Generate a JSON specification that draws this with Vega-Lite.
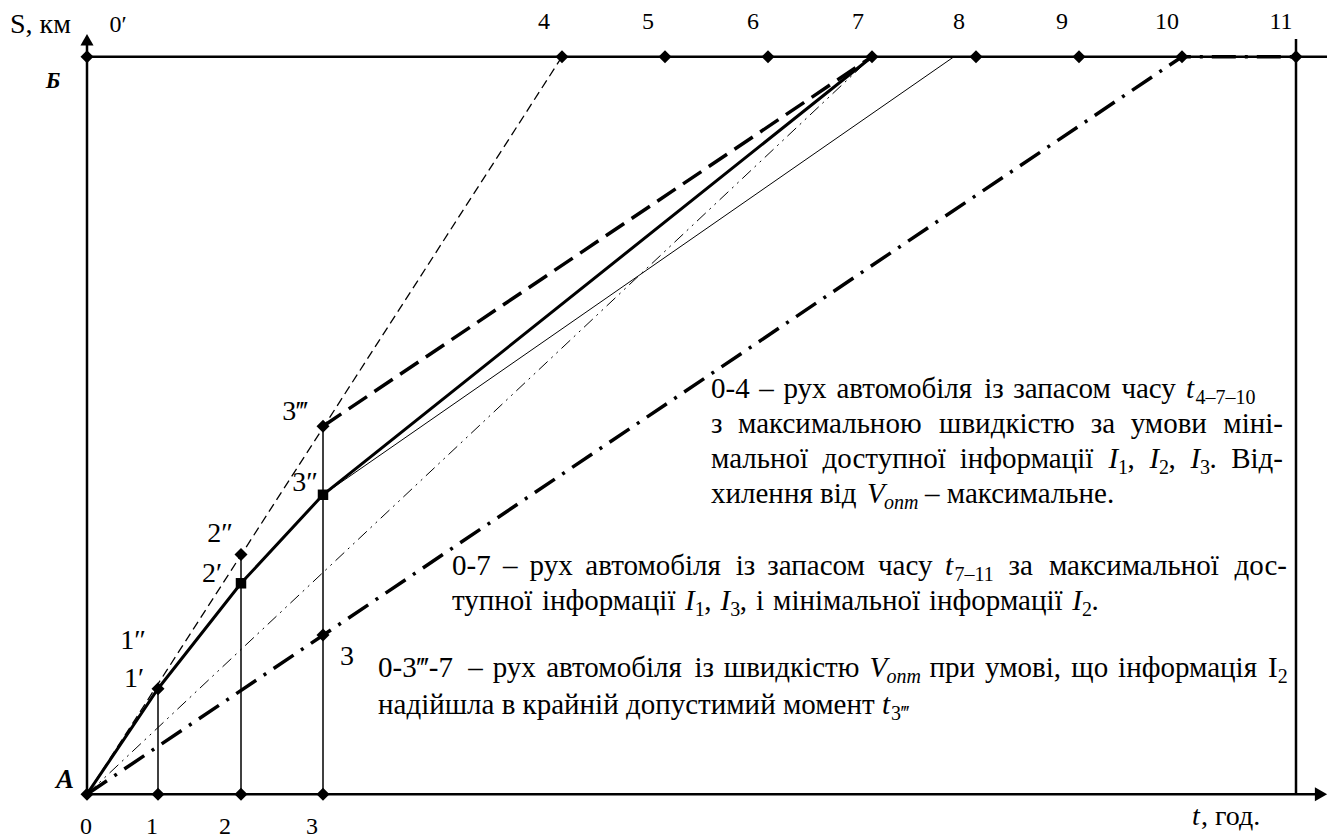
{
  "$schema": "https://vega.github.io/schema/vega-lite/v6.json",
  "width": 1337,
  "height": 840,
  "autosize": {"type": "fit", "contains": "padding"},
  "padding": 0,
  "background": "white",
  "config": {"view": {"stroke": null}, "text": {"font": "Liberation Serif", "baseline": "alphabetic", "color": "black"}},
  "datasets": {
    "lines": [
      {"s": "d4", "o": 0, "x": 0, "y": 0}, {"s": "d4", "o": 1, "x": 4.75, "y": 100},
      {"s": "sol", "o": 0, "x": 0, "y": 0}, {"s": "sol", "o": 1, "x": 0.71, "y": 14.3}, {"s": "sol", "o": 2, "x": 1.54, "y": 28.6}, {"s": "sol", "o": 3, "x": 2.36, "y": 40.6}, {"s": "sol", "o": 4, "x": 7.85, "y": 100},
      {"s": "ld", "o": 0, "x": 2.36, "y": 49.9}, {"s": "ld", "o": 1, "x": 7.85, "y": 100},
      {"s": "th", "o": 0, "x": 2.36, "y": 40.6}, {"s": "th", "o": 1, "x": 8.67, "y": 100},
      {"s": "ddd", "o": 0, "x": 0, "y": 0}, {"s": "ddd", "o": 1, "x": 7.85, "y": 100},
      {"s": "dd", "o": 0, "x": 0, "y": 0}, {"s": "dd", "o": 1, "x": 10.95, "y": 100}, {"s": "dd", "o": 2, "x": 12.09, "y": 100}
    ],
    "frame": [
      {"x": 0, "y": 0, "x2": 12.31, "y2": 0},
      {"x": 0, "y": 0, "x2": 0, "y2": 102},
      {"x": 0, "y": 100, "x2": 12.4, "y2": 100},
      {"x": 12.09, "y": 0, "x2": 12.09, "y2": 102.4}
    ],
    "vert": [
      {"x": 0.71, "y": 0, "x2": 0.71, "y2": 14.3},
      {"x": 1.54, "y": 0, "x2": 1.54, "y2": 32.5},
      {"x": 2.36, "y": 0, "x2": 2.36, "y2": 49.9}
    ],
    "arrowUp": [{"x": 0, "y": 102.3}],
    "arrowRight": [{"x": 12.34, "y": 0}],
    "diamonds": [
      {"x": 0, "y": 0}, {"x": 0.71, "y": 0}, {"x": 1.54, "y": 0}, {"x": 2.36, "y": 0},
      {"x": 0, "y": 100}, {"x": 4.75, "y": 100}, {"x": 5.78, "y": 100}, {"x": 6.81, "y": 100}, {"x": 7.85, "y": 100},
      {"x": 8.89, "y": 100}, {"x": 9.92, "y": 100}, {"x": 10.95, "y": 100}, {"x": 12.09, "y": 100},
      {"x": 0.71, "y": 14.3}, {"x": 1.54, "y": 32.5}, {"x": 2.36, "y": 49.9}, {"x": 2.36, "y": 21.6}
    ],
    "squares": [{"x": 1.54, "y": 28.6}, {"x": 2.36, "y": 40.6}],
    "lab24": [
      {"x": 4.57, "y": 103.78, "text": "4"}, {"x": 5.61, "y": 103.78, "text": "5"}, {"x": 6.66, "y": 103.78, "text": "6"},
      {"x": 7.71, "y": 103.78, "text": "7"}, {"x": 8.72, "y": 103.78, "text": "8"}, {"x": 9.75, "y": 103.78, "text": "9"},
      {"x": 10.8, "y": 103.78, "text": "10"}, {"x": 11.94, "y": 103.78, "text": "11"}, {"x": 0.31, "y": 103.37, "text": "0′"},
      {"x": -0.01, "y": -5.4, "text": "0"}, {"x": 0.65, "y": -5.4, "text": "1"}, {"x": 1.38, "y": -5.4, "text": "2"}, {"x": 2.25, "y": -5.4, "text": "3"}
    ],
    "labLeft": [
      {"x": -0.77, "y": 103.24, "text": "S, км"},
      {"x": 11.14, "y": -4.18, "text": ", год."}
    ],
    "labItal": [{"x": 11.05, "y": -4.18, "text": "t"}],
    "pointLab": [
      {"x": 0.46, "y": 19.7, "text": "1″"}, {"x": 0.47, "y": 14.57, "text": "1′"},
      {"x": 1.33, "y": 34.14, "text": "2″"}, {"x": 1.25, "y": 28.74, "text": "2′"},
      {"x": 2.08, "y": 50.74, "text": "3‴"}, {"x": 2.18, "y": 41.16, "text": "3″"},
      {"x": 2.6, "y": 17.54, "text": "3"}
    ],
    "boldA": [{"x": -0.22, "y": 0.81, "text": "A"}],
    "boldB": [{"x": -0.34, "y": 95.82, "text": "Б"}],
    "txt": [
      {"x": 6.24, "y": 53.71, "text": "0-4"}, {"x": 6.723, "y": 53.71, "text": "–"}, {"x": 6.964, "y": 53.71, "text": "рух"},
      {"x": 7.495, "y": 53.71, "text": "автомобіля"}, {"x": 8.973, "y": 53.71, "text": "із"}, {"x": 9.263, "y": 53.71, "text": "запасом"},
      {"x": 10.344, "y": 53.71, "text": "часу"},
      {"x": 6.24, "y": 48.99, "text": "з"}, {"x": 6.511, "y": 48.99, "text": "максимальною"}, {"x": 8.521, "y": 48.99, "text": "швидкістю"},
      {"x": 10.037, "y": 48.99, "text": "за"}, {"x": 10.437, "y": 48.99, "text": "умови"},
      {"x": 6.24, "y": 44.26, "text": "мальної"}, {"x": 7.355, "y": 44.26, "text": "доступної"}, {"x": 8.727, "y": 44.26, "text": "інформації"},
      {"x": 10.406, "y": 44.26, "text": ","}, {"x": 10.816, "y": 44.26, "text": ","}, {"x": 11.226, "y": 44.26, "text": "."},
      {"x": 6.24, "y": 39.54, "text": "хилення від"},
      {"x": 8.38, "y": 39.54, "text": "– максимальне."},
      {"x": 3.65, "y": 29.69, "text": "0-7"}, {"x": 4.159, "y": 29.69, "text": "–"}, {"x": 4.426, "y": 29.69, "text": "рух"},
      {"x": 4.983, "y": 29.69, "text": "автомобіля"}, {"x": 6.487, "y": 29.69, "text": "із"}, {"x": 6.803, "y": 29.69, "text": "запасом"},
      {"x": 7.91, "y": 29.69, "text": "часу"}, {"x": 9.216, "y": 29.69, "text": "за"}, {"x": 9.619, "y": 29.69, "text": "максимальної"},
      {"x": 3.65, "y": 24.97, "text": "тупної"}, {"x": 4.549, "y": 24.97, "text": "інформації"},
      {"x": 6.173, "y": 24.97, "text": ","}, {"x": 6.528, "y": 24.97, "text": ","}, {"x": 6.69, "y": 24.97, "text": "і"},
      {"x": 6.861, "y": 24.97, "text": "мінімальної"}, {"x": 8.42, "y": 24.97, "text": "інформації"}, {"x": 10.044, "y": 24.97, "text": "."},
      {"x": 2.91, "y": 15.92, "text": "0-3‴-7"}, {"x": 3.812, "y": 15.92, "text": "–"}, {"x": 4.057, "y": 15.92, "text": "рух"},
      {"x": 4.592, "y": 15.92, "text": "автомобіля"}, {"x": 6.074, "y": 15.92, "text": "із"}, {"x": 6.368, "y": 15.92, "text": "швидкістю"},
      {"x": 8.426, "y": 15.92, "text": "при"}, {"x": 8.981, "y": 15.92, "text": "умові,"}, {"x": 9.843, "y": 15.92, "text": "що"},
      {"x": 10.311, "y": 15.92, "text": "інформація"}, {"x": 11.811, "y": 15.92, "text": "I"},
      {"x": 2.91, "y": 10.93, "text": "надійшла в крайній допустимий момент"}
    ],
    "txtR": [
      {"x": 11.96, "y": 48.99, "text": "міні-"},
      {"x": 11.96, "y": 44.26, "text": "Від-"},
      {"x": 12.0, "y": 29.69, "text": "дос-"}
    ],
    "ital": [
      {"x": 10.99, "y": 53.71, "text": "t"},
      {"x": 10.214, "y": 44.26, "text": "I"}, {"x": 10.624, "y": 44.26, "text": "I"}, {"x": 11.034, "y": 44.26, "text": "I"},
      {"x": 7.8, "y": 39.54, "text": "V"},
      {"x": 8.58, "y": 29.69, "text": "t"},
      {"x": 5.981, "y": 24.97, "text": "I"}, {"x": 6.336, "y": 24.97, "text": "I"}, {"x": 9.852, "y": 24.97, "text": "I"},
      {"x": 7.826, "y": 15.92, "text": "V"},
      {"x": 7.95, "y": 10.93, "text": "t"}
    ],
    "sub": [
      {"x": 11.085, "y": 52.9, "text": "4–7–10"},
      {"x": 10.311, "y": 43.45, "text": "1"}, {"x": 10.721, "y": 43.45, "text": "2"}, {"x": 11.131, "y": 43.45, "text": "3"},
      {"x": 8.675, "y": 28.88, "text": "7–11"},
      {"x": 6.078, "y": 24.16, "text": "1"}, {"x": 6.433, "y": 24.16, "text": "3"}, {"x": 9.949, "y": 24.16, "text": "2"},
      {"x": 11.908, "y": 15.11, "text": "2"},
      {"x": 8.04, "y": 10.12, "text": "3‴"}
    ],
    "subI": [
      {"x": 7.97, "y": 38.73, "text": "опт"},
      {"x": 7.996, "y": 15.11, "text": "опт"}
    ]
  },
  "encoding": {
    "x": {"field": "x", "type": "quantitative", "scale": {"domain": [-0.87, 12.5], "nice": false, "zero": false}, "axis": null},
    "y": {"field": "y", "type": "quantitative", "scale": {"domain": [-5.668, 107.69], "nice": false, "zero": false}, "axis": null}
  },
  "layer": [
    {"data": {"name": "frame"}, "mark": {"type": "rule", "strokeWidth": 2.5, "color": "black"}, "encoding": {"x2": {"field": "x2"}, "y2": {"field": "y2"}}},
    {"data": {"name": "vert"}, "mark": {"type": "rule", "strokeWidth": 1.5, "color": "black"}, "encoding": {"x2": {"field": "x2"}, "y2": {"field": "y2"}}},
    {"data": {"name": "lines"}, "transform": [{"filter": "datum.s == 'd4'"}], "mark": {"type": "line", "color": "black", "strokeWidth": 1.3, "strokeDash": [9, 5]}, "encoding": {"order": {"field": "o"}}},
    {"data": {"name": "lines"}, "transform": [{"filter": "datum.s == 'th'"}], "mark": {"type": "line", "color": "black", "strokeWidth": 1}, "encoding": {"order": {"field": "o"}}},
    {"data": {"name": "lines"}, "transform": [{"filter": "datum.s == 'ddd'"}], "mark": {"type": "line", "color": "black", "strokeWidth": 1, "strokeDash": [12, 5, 2, 5, 2, 5]}, "encoding": {"order": {"field": "o"}}},
    {"data": {"name": "lines"}, "transform": [{"filter": "datum.s == 'dd'"}], "mark": {"type": "line", "color": "black", "strokeWidth": 3.5, "strokeDash": [24, 9, 3, 9]}, "encoding": {"order": {"field": "o"}}},
    {"data": {"name": "lines"}, "transform": [{"filter": "datum.s == 'ld'"}], "mark": {"type": "line", "color": "black", "strokeWidth": 3.5, "strokeDash": [22, 9]}, "encoding": {"order": {"field": "o"}}},
    {"data": {"name": "lines"}, "transform": [{"filter": "datum.s == 'sol'"}], "mark": {"type": "line", "color": "black", "strokeWidth": 3}, "encoding": {"order": {"field": "o"}}},
    {"data": {"name": "arrowUp"}, "mark": {"type": "point", "shape": "triangle-up", "filled": true, "color": "black", "size": 170, "opacity": 1}},
    {"data": {"name": "arrowRight"}, "mark": {"type": "point", "shape": "triangle-right", "filled": true, "color": "black", "size": 200, "opacity": 1}},
    {"data": {"name": "diamonds"}, "mark": {"type": "point", "shape": "diamond", "filled": true, "color": "black", "size": 170, "opacity": 1}},
    {"data": {"name": "squares"}, "mark": {"type": "point", "shape": "square", "filled": true, "color": "black", "size": 110, "opacity": 1}},
    {"data": {"name": "lab24"}, "mark": {"type": "text", "fontSize": 24, "align": "center"}, "encoding": {"text": {"field": "text"}}},
    {"data": {"name": "labLeft"}, "mark": {"type": "text", "fontSize": 28, "align": "left"}, "encoding": {"text": {"field": "text"}}},
    {"data": {"name": "labItal"}, "mark": {"type": "text", "fontSize": 28, "align": "left", "fontStyle": "italic"}, "encoding": {"text": {"field": "text"}}},
    {"data": {"name": "pointLab"}, "mark": {"type": "text", "fontSize": 28, "align": "center"}, "encoding": {"text": {"field": "text"}}},
    {"data": {"name": "boldA"}, "mark": {"type": "text", "fontSize": 27, "align": "center", "fontStyle": "italic", "fontWeight": "bold"}, "encoding": {"text": {"field": "text"}}},
    {"data": {"name": "boldB"}, "mark": {"type": "text", "fontSize": 23, "align": "center", "fontStyle": "italic", "fontWeight": "bold"}, "encoding": {"text": {"field": "text"}}},
    {"data": {"name": "txt"}, "mark": {"type": "text", "fontSize": 29, "align": "left"}, "encoding": {"text": {"field": "text"}}},
    {"data": {"name": "txtR"}, "mark": {"type": "text", "fontSize": 29, "align": "right"}, "encoding": {"text": {"field": "text"}}},
    {"data": {"name": "ital"}, "mark": {"type": "text", "fontSize": 29, "align": "left", "fontStyle": "italic"}, "encoding": {"text": {"field": "text"}}},
    {"data": {"name": "sub"}, "mark": {"type": "text", "fontSize": 20, "align": "left"}, "encoding": {"text": {"field": "text"}}},
    {"data": {"name": "subI"}, "mark": {"type": "text", "fontSize": 20, "align": "left", "fontStyle": "italic"}, "encoding": {"text": {"field": "text"}}}
  ]
}
